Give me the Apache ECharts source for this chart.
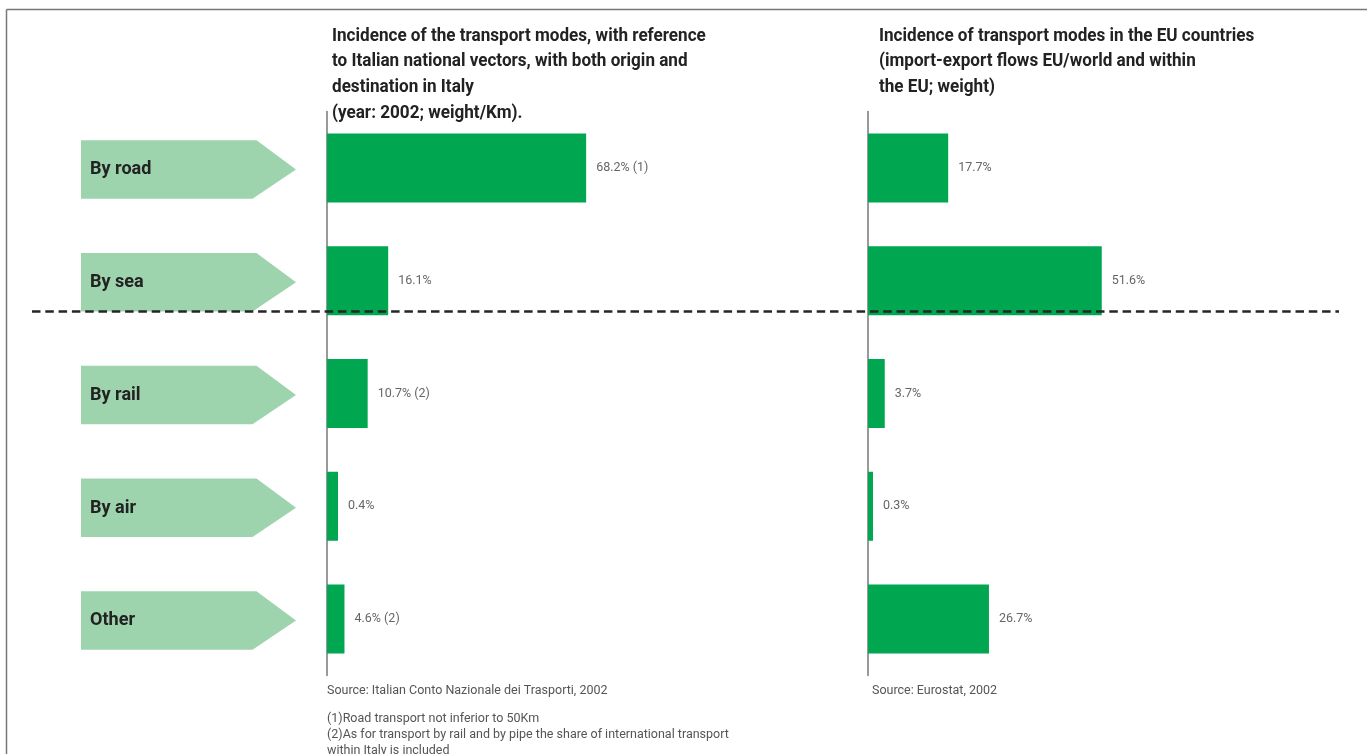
<!DOCTYPE html>
<html>
<head>
<meta charset="utf-8">
<title>Incidence of transport modes</title>
<script src="https://cdn.jsdelivr.net/npm/echarts@6/dist/echarts.min.js"></script>
<style>
  html, body { margin: 0; padding: 0; background: #ffffff; }
  #chart { width: 1367px; height: 754px; }
</style>
</head>
<body>
<div id="chart"></div>
<script>
// Transport modes (shared by both panels)
const modes = ['By road', 'By sea', 'By rail', 'By air', 'Other'];

// Italy, national vectors, 2002 (weight/Km), percent
const italyShare = [68.2, 16.1, 10.7, 0.4, 4.6];
const italyNotes = [' (1)', '', ' (2)', '', ' (2)'];

// EU countries, import-export flows (weight), percent
const euShare = [17.7, 51.6, 3.7, 0.3, 26.7];

const leftTitle = 'Incidence of the transport modes, with reference\nto Italian national vectors, with both origin and\ndestination in Italy\n(year: 2002; weight/Km).';
const rightTitle = 'Incidence of transport modes in the EU countries\n(import-export flows EU/world and within\nthe EU; weight)';
const leftSource = 'Source: Italian Conto Nazionale dei Trasporti, 2002';
const rightSource = 'Source: Eurostat, 2002';
const footnotes = '(1)Road transport not inferior to 50Km\n(2)As for transport by rail and by pipe the share of international transport\nwithin Italy is included';

const FONT = "Roboto, 'Noto Sans', sans-serif";
const GREEN = '#00a650';
const LIGHT = '#9dd4ae';
// slight horizontal squeeze that gives the bold headings a condensed look
const SQUEEZE = 0.95;

const chart = echarts.init(document.getElementById('chart'));

function catAxis(gridIndex) {
  return {
    type: 'category',
    gridIndex: gridIndex,
    data: modes,
    inverse: true,
    axisLine: { show: true, lineStyle: { color: '#777', width: 1.5 } },
    axisTick: { show: false },
    axisLabel: { show: false },
    splitLine: { show: false }
  };
}
function valAxis(gridIndex) {
  return {
    type: 'value',
    gridIndex: gridIndex,
    min: 0,
    max: 100,
    show: false,
    splitLine: { show: false }
  };
}

const valueLabel = {
  show: true,
  position: 'right',
  distance: 10,
  color: '#666',
  fontFamily: FONT,
  fontSize: 12.5
};

function heading(text, x) {
  return {
    type: 'text', x: x, y: 23.2, scaleX: SQUEEZE, z: 10,
    style: {
      text: text,
      font: 'bold 18px ' + FONT,
      lineHeight: 25.7,
      verticalAlign: 'top',
      fill: '#222'
    }
  };
}

chart.setOption({
  backgroundColor: '#ffffff',
  animation: false,
  grid: [
    { left: 327, top: 111.6, width: 380, height: 563.8 },
    { left: 868, top: 111.6, width: 453, height: 563.8 }
  ],
  xAxis: [valAxis(0), valAxis(1)],
  yAxis: [catAxis(0), catAxis(1)],
  series: [
    {
      // label arrows to the left of the first panel
      type: 'custom',
      xAxisIndex: 0,
      yAxisIndex: 0,
      clip: false,
      silent: true,
      z: 1,
      data: modes.map((m, i) => [0, i]),
      encode: { x: 0, y: 1 },
      renderItem: function (params, api) {
        const cy = api.coord([0, api.value(1)])[1] + 1.5;
        const h = 58.5;
        const x0 = 81, xTop = 256.5, xBot = 252.5, xTip = 296;
        return {
          type: 'group',
          children: [
            {
              type: 'polygon',
              shape: { points: [[x0, cy - h / 2], [xTop, cy - h / 2], [xTip, cy], [xBot, cy + h / 2], [x0, cy + h / 2]] },
              style: { fill: LIGHT }
            },
            {
              type: 'text',
              x: 90, y: cy, scaleX: SQUEEZE,
              style: {
                text: modes[params.dataIndex],
                x: 0, y: 0,
                verticalAlign: 'middle',
                fill: '#222',
                font: 'bold 19px ' + FONT
              }
            }
          ]
        };
      }
    },
    {
      type: 'bar',
      xAxisIndex: 0,
      yAxisIndex: 0,
      data: italyShare,
      barWidth: 69,
      barMinHeight: 11,
      itemStyle: { color: GREEN },
      label: Object.assign({}, valueLabel, {
        formatter: p => p.value.toFixed(1) + '%' + italyNotes[p.dataIndex]
      }),
      z: 2
    },
    {
      type: 'bar',
      xAxisIndex: 1,
      yAxisIndex: 1,
      data: euShare,
      barWidth: 69,
      barMinHeight: 5,
      itemStyle: { color: GREEN },
      label: Object.assign({}, valueLabel, {
        formatter: p => p.value.toFixed(1) + '%'
      }),
      z: 2
    }
  ],
  graphic: [
    // frame edges
    { type: 'line', z: 10, shape: { x1: 6.5, y1: 9.5, x2: 1367, y2: 9.5 }, style: { stroke: '#777', lineWidth: 1.5 } },
    { type: 'line', z: 10, shape: { x1: 6.5, y1: 9.5, x2: 6.5, y2: 754 }, style: { stroke: '#777', lineWidth: 1.5 } },
    // separator between sea/road and the other modes
    {
      type: 'line', z: 10,
      shape: { x1: 32, y1: 311.5, x2: 1339, y2: 311.5 },
      style: { stroke: '#262626', lineWidth: 2.5, lineDash: [8.5, 4.8] }
    },
    heading(leftTitle, 332),
    heading(rightTitle, 879),
    {
      type: 'text', x: 327, y: 691, z: 10,
      style: { text: leftSource, font: '12.5px ' + FONT, fill: '#555', verticalAlign: 'middle' }
    },
    {
      type: 'text', x: 872, y: 691, z: 10,
      style: { text: rightSource, font: '12.5px ' + FONT, fill: '#555', verticalAlign: 'middle' }
    },
    {
      type: 'text', x: 327, y: 710.5, z: 10,
      style: { text: footnotes, font: '12.5px ' + FONT, fill: '#555', lineHeight: 16, verticalAlign: 'top' }
    }
  ]
});
</script>
</body>
</html>
